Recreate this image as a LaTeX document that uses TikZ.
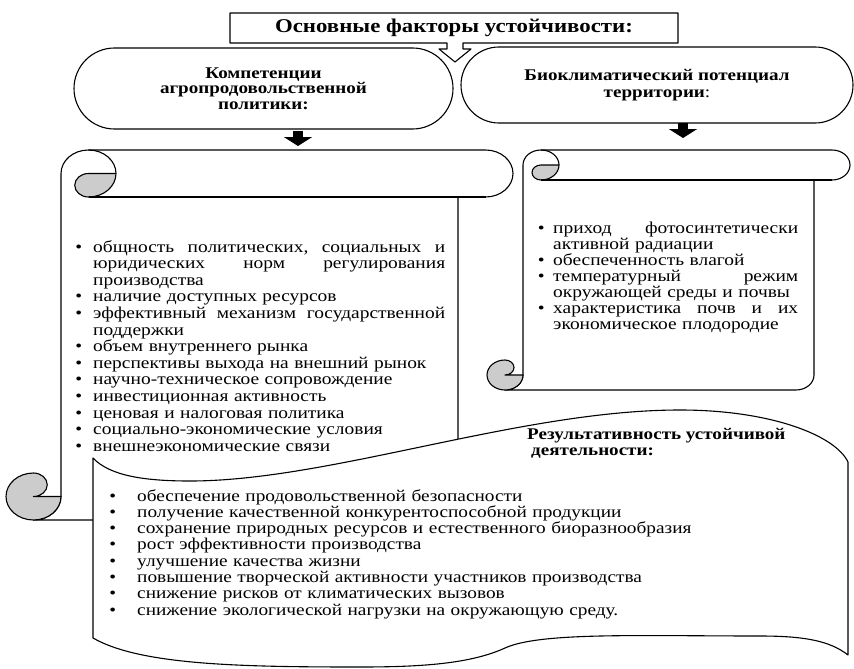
\documentclass[tikz,border=0pt]{standalone}
\usepackage{fontspec}
\setmainfont{Liberation Serif}[FakeStretch=1.17]
\usetikzlibrary{arrows.meta}

\definecolor{curlgray}{RGB}{204,204,204}

\newcommand{\titlefont}{\fontsize{19.5}{22}\selectfont\bfseries}
\newcommand{\headfont}{\fontsize{16.3}{15.5}\selectfont\bfseries}
\newcommand{\listfont}{\fontsize{16.6}{16.6}\selectfont}
\newcommand{\bioListfont}{\fontsize{16.6}{16}\selectfont}
\newcommand{\resListfont}{\fontsize{16.5}{16.3}\selectfont}
\newcommand{\bul}[1]{\leavevmode\llap{\textbullet\hspace{#1}}}
\newcommand{\jline}[2]{\leavevmode\hbox to #1{#2}} % justified line, words split by \hfill

\tikzset{
  outline/.style={draw=black, line width=1.1pt, line join=round},
  curl/.style={outline, fill=curlgray},
  terminal/.style={outline, fill=white, rectangle, align=center, inner sep=0pt, font=\headfont},
  blockarrow/.style={line width=10pt, -{Triangle[width=28pt,length=9pt]}},
  listtext/.style={anchor=base west, inner sep=0pt, align=left}
}

% vertical scroll: left, top, right, bottom, roll width, roll height
\newcommand{\vertscroll}[6]{%
  \pgfmathsetmacro{\scL}{#1}\pgfmathsetmacro{\scT}{#2}%
  \pgfmathsetmacro{\scR}{#3}\pgfmathsetmacro{\scB}{#4}%
  \pgfmathsetmacro{\scA}{#5}\pgfmathsetmacro{\scC}{#6}%
  \pgfmathsetmacro{\scAh}{\scA/2}\pgfmathsetmacro{\scCh}{\scC/2}%
  \pgfmathsetmacro{\scAq}{\scA/4}\pgfmathsetmacro{\scCq}{\scC/4}%
  \draw[outline, fill=white] (\scL+\scAh,\scB)
      arc[start angle=90, end angle=0, x radius=\scAh, y radius=\scCh]
      -- (\scL+\scA,\scT+\scCh)
      arc[start angle=180, end angle=270, x radius=\scAh, y radius=\scCh]
      -- (\scR-\scAh,\scT)
      arc[start angle=270, end angle=450, x radius=\scAh, y radius=\scCh]
      -- (\scR-\scA,\scT+\scC) -- (\scR-\scA,\scB-\scCh)
      arc[start angle=0, end angle=90, x radius=\scAh, y radius=\scCh]
      -- cycle;
  \draw[curl] (\scL+\scA+\scAh,\scT+\scCh) % top curl
      arc[start angle=270, end angle=90, x radius=\scAq, y radius=\scCq]
      arc[start angle=90, end angle=0, x radius=\scAh, y radius=\scCh]
      -- cycle;
  \draw[outline] (\scL+\scA+\scAh,\scT)
      arc[start angle=270, end angle=360, x radius=\scAh, y radius=\scCh];
  \draw[outline] (\scL+\scA+\scAh,\scT+\scC) -- (\scR-\scAh,\scT+\scC);
  \draw[curl] (\scL+\scAh,\scB-\scCh) -- (\scL+\scA,\scB-\scCh) % bottom curl
      arc[start angle=0, end angle=270, x radius=\scAh, y radius=\scCh]
      arc[start angle=270, end angle=450, x radius=\scAq, y radius=\scCq]
      -- cycle;
}

\begin{document}
\begin{tikzpicture}[x=1pt, y=1pt, yscale=-1]  % units of pixels, y down
    \useasboundingbox (0,0) rectangle (854,669);

    \vertscroll{6}{150}{513}{520}{55}{47}
    \vertscroll{487}{150}{850}{390}{36}{30}

    \node[terminal, rounded corners=40.5pt, minimum width=379pt, minimum height=81pt]
        (komp) at (263.5,88.5) {Компетенции\\агропродовольственной\\политики:};
    \node[terminal, rounded corners=38pt, minimum width=392pt, minimum height=76pt]
        (bio) at (657,85) {Биоклиматический потенциал\\[1.5pt]территории{\mdseries:}};

    % title box with its hollow arrow
    \draw[outline, fill=white] (230,13) -- (678,13) -- (678,43) -- (463,43) -- (463,49)
        -- (471,49) -- (455,62) -- (439,49) -- (447,49) -- (447,43) -- (230,43) -- cycle;
    \node[font=\titlefont, inner sep=0pt] (title) at (454,28) {Основные факторы устойчивости:};

    \coordinate (kompArrow) at (298,131);
    \coordinate (kompScroll) at (298,146);
    \coordinate (bioArrow) at (683,123);
    \coordinate (bioScroll) at (683,138);
    \draw[blockarrow] (kompArrow) -- (kompScroll);
    \draw[blockarrow] (bioArrow) -- (bioScroll);

    % wave banner, drawn over the left scroll
    \draw[outline, fill=white] (93,458)
        .. controls (110,476) and (145,481) .. (190,481)
        .. controls (330,481) and (520,410) .. (680,410)
        .. controls (770,410) and (835,435) .. (848,462)
        -- (848,655)
        .. controls (830,641) and (805,636) .. (760,636)
        .. controls (640,636) and (540,632) .. (505,648)
        .. controls (470,664) and (420,667) .. (360,667)
        .. controls (240,667) and (140,665) .. (93,638)
        -- cycle;

    \node[listtext, text width=352pt, font=\listfont] (kompList) at (93,252) {%
        \bul{11pt}\jline{352pt}{общность\hfill политических,\hfill социальных\hfill и}\\
        \jline{352pt}{юридических\hfill норм\hfill регулирования}\\
        производства\\
        \bul{11pt}наличие доступных ресурсов\\
        \bul{11pt}\jline{352pt}{эффективный\hfill механизм\hfill государственной}\\
        поддержки\\
        \bul{11pt}объем внутреннего рынка\\
        \bul{11pt}перспективы выхода на внешний рынок\\
        \bul{11pt}научно-техническое сопровождение\\
        \bul{11pt}инвестиционная активность\\
        \bul{11pt}ценовая и налоговая политика\\
        \bul{11pt}социально-экономические условия\\
        \bul{11pt}внешнеэкономические связи};

    \node[listtext, text width=245pt, font=\bioListfont] (bioList) at (553,233) {%
        \bul{8.5pt}\jline{245pt}{приход\hfill фотосинтетически}\\
        активной радиации\\
        \bul{8.5pt}обеспеченность влагой\\
        \bul{8.5pt}\jline{245pt}{температурный\hfill режим}\\
        окружающей среды и почвы\\
        \bul{8.5pt}\jline{245pt}{характеристика\hfill почв\hfill и\hfill их}\\
        экономическое плодородие};

    \node[listtext, font=\headfont] (res) at (527,455)
        {Результативность устойчивой\\\hspace*{4pt}деятельности:};

    \node[listtext, text width=660pt, font=\resListfont] (resList) at (137,501) {%
        \bul{21pt}обеспечение продовольственной безопасности\\
        \bul{21pt}получение качественной конкурентоспособной продукции\\
        \bul{21pt}сохранение природных ресурсов и естественного биоразнообразия\\
        \bul{21pt}рост эффективности производства\\
        \bul{21pt}улучшение качества жизни\\
        \bul{21pt}повышение творческой активности участников производства\\
        \bul{21pt}снижение рисков от климатических вызовов\\
        \bul{21pt}снижение экологической нагрузки на окружающую среду.};
\end{tikzpicture}
\end{document}
